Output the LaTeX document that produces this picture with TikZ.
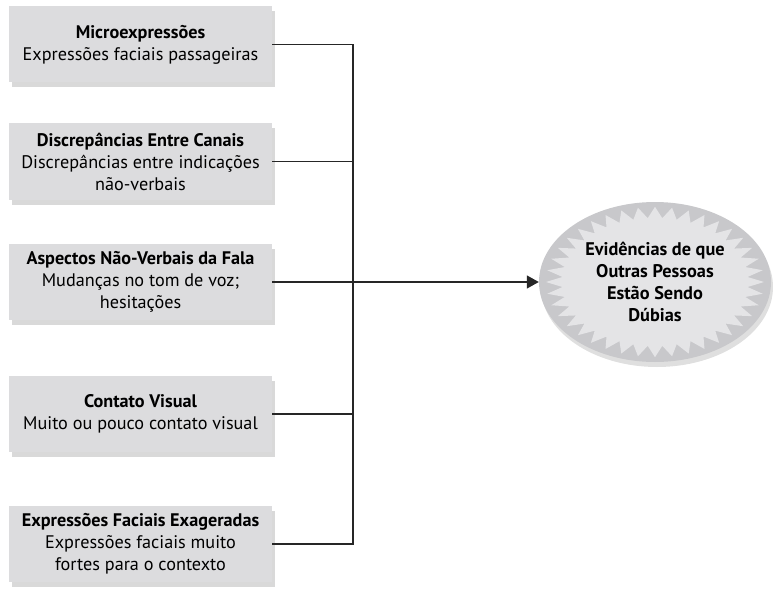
\documentclass[tikz,border=0pt]{standalone}
\usepackage{fontspec}
\setmainfont{PT Sans}
\usetikzlibrary{shapes.geometric,shadows,arrows.meta}
\definecolor{boxgray}{RGB}{220,220,222}
\definecolor{raylight}{RGB}{228,228,230}
\definecolor{raydark}{RGB}{200,200,203}
\begin{document}
\begin{tikzpicture}[x=1pt,y=-1pt,
	box/.style={fill=boxgray, minimum width=263pt, minimum height=76pt, align=center, inner sep=2pt,
		font=\fontsize{18.2}{22}\selectfont, drop shadow={shadow xshift=3pt, shadow yshift=-5pt, opacity=0.3}},
	link/.style={black!85, line width=1.4pt}]
	\useasboundingbox (0,0) rectangle (773,591);
	\node[box] (micro) at (140.5,44.5) {\textbf{Microexpressões}\\Expressões faciais passageiras};
	\node[box] (canais) at (140.5,161.5) {\textbf{Discrepâncias Entre Canais}\\Discrepâncias entre indicações\\não-verbais};
	\node[box] (fala) at (140.5,282) {\textbf{Aspectos Não-Verbais da Fala}\\Mudanças no tom de voz;\\hesitações};
	\node[box] (olhar) at (140.5,414) {\textbf{Contato Visual}\\Muito ou pouco contato visual};
	\node[box] (exag) at (140.5,544) {\textbf{Expressões Faciais Exageradas}\\Expressões faciais muito\\fortes para o contexto};
	% starburst
	\node[ellipse, fill=raydark, minimum width=232pt, minimum height=160pt,
		drop shadow={shadow xshift=2pt, shadow yshift=-5pt, opacity=0.25}] (evid) at (655,282) {};
	\fill[raylight] plot[variable=\k, samples=81, domain=0:80]
		({655+116*(0.87+0.07*cos(180*\k))*cos(4.5*\k)}, {282+80*(0.87+0.07*cos(180*\k))*sin(4.5*\k)}) -- cycle;
	\node[font=\bfseries\fontsize{18.3}{22}\selectfont, align=center] (evidtext) at (evid) {Evidências de que\\Outras Pessoas\\Estão Sendo\\Dúbias};
	\coordinate (join) at (353,282);
	\draw[link] (micro.east) -| (join);
	\draw[link] (canais.east) -| (join);
	\draw[link] (olhar.east) -| (join);
	\draw[link] (exag.east) -| (join);
	\draw[link,-{Triangle[length=12pt,width=13pt]}] (fala.east) -- (evid.west);
\end{tikzpicture}
\end{document}
